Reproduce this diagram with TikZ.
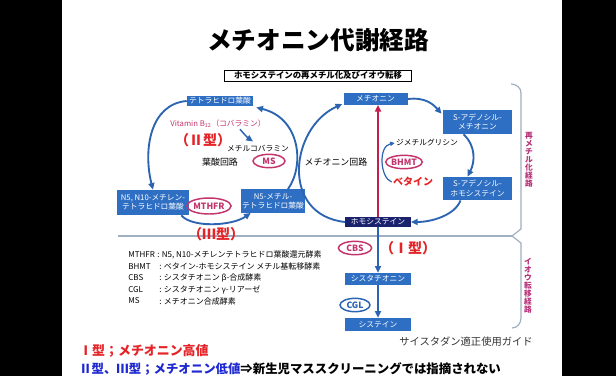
\documentclass[tikz,border=0pt]{standalone}
\usepackage{fontspec}
\setmainfont{Noto Sans CJK JP}
\usetikzlibrary{shapes.geometric,arrows.meta,calc}
\definecolor{boxblue}{RGB}{46,111,196}
\definecolor{navy}{RGB}{26,34,110}
\definecolor{arrowblue}{RGB}{44,100,178}
\definecolor{lblred}{RGB}{228,36,40}
\definecolor{enzmag}{RGB}{196,52,108}
\definecolor{crimson}{RGB}{196,30,76}
\definecolor{bracegray}{RGB}{160,176,194}
\definecolor{vertmag}{RGB}{184,48,122}
\definecolor{lowblue}{RGB}{30,40,210}
\begin{document}
\begin{tikzpicture}[x=0.75pt,y=-0.75pt,
  bbox/.style={fill=boxblue, text=white, inner sep=0pt, align=center, font=\fontsize{5.8}{7}\selectfont},
  enz/.style={ellipse, draw=enzmag, line width=1.1pt, text=enzmag, inner sep=0pt, font=\fontsize{6.5}{6.5}\selectfont\bfseries},
  flow/.style={draw=arrowblue, line width=1.4pt, -{Triangle[length=5pt,width=4.5pt]}},
  thinflow/.style={draw=arrowblue, line width=0.9pt, -{Triangle[length=3.5pt,width=3.2pt]}},
  redlbl/.style={text=lblred, font=\fontsize{10.5}{10.5}\selectfont\bfseries, inner sep=0pt},
  smalltxt/.style={inner sep=0pt, font=\fontsize{5.8}{6}\selectfont},
  legtxt/.style={inner sep=0pt, anchor=west, font=\fontsize{6}{6}\selectfont},
  vert/.style={inner sep=0pt, align=center, text=vertmag, font=\fontsize{5.8}{6}\selectfont\bfseries}
]
\fill[black] (0,0) rectangle (616,376);
\fill[white] (62,0) rectangle (562,376);
\useasboundingbox (0,0) rectangle (616,376);

% title and subtitle
\node[inner sep=0pt, font=\fontsize{18.5}{18.5}\selectfont\bfseries] (title) at (318,40) {メチオニン代謝経路};
\node[draw, line width=0.6pt, minimum width=140pt, minimum height=8.3pt, inner sep=0pt,
      font=\fontsize{6.3}{6.3}\selectfont\bfseries] (sub) at (318,75.5) {ホモシステインの再メチル化及びイオウ転移};

% separator and brace
\draw[bracegray, line width=0.8pt] (118,236) coordinate (sepL) -- (512,236) coordinate (sepR);
\draw[bracegray, line width=0.9pt] (511,84) coordinate (brT) to[out=0,in=90] (521,93) -- (521,229) -- (512,236) -- (521,243) -- (521,318) to[out=-90,in=0] (512,328) coordinate (brB);
\node[vert] (v1) at (529,160) {再\\メ\\チ\\ル\\化\\経\\路};
\node[vert] (v2) at (528,286) {イ\\オ\\ウ\\転\\移\\経\\路};

% boxes
\node[bbox, minimum width=49.5pt, minimum height=7.8pt] (thf) at (220,101) {テトラヒドロ葉酸};
\node[bbox, minimum width=48pt, minimum height=8.4pt] (met) at (375.5,99) {メチオニン};
\node[bbox, minimum width=52pt, minimum height=18pt] (sam) at (477.5,122) {S-アデノシル-\\メチオニン};
\node[bbox, minimum width=52pt, minimum height=17.5pt] (sah) at (477.5,188.5) {S-アデノシル-\\ホモシステイン};
\node[bbox, fill=navy, minimum width=49pt, minimum height=7.8pt] (hcy) at (378,222) {ホモシステイン};
\node[bbox, minimum width=48pt, minimum height=17.5pt] (mthf) at (273,201) {N5-メチル-\\テトラヒドロ葉酸};
\node[bbox, minimum width=54pt, minimum height=18.8pt] (mlthf) at (153,202.5) {N5, N10-メチレン-\\テトラヒドロ葉酸};
\node[bbox, minimum width=50pt, minimum height=9pt] (cysta) at (378,279) {シスタチオニン};
\node[bbox, minimum width=49.5pt, minimum height=9.8pt] (cys) at (378,324.5) {システイン};

% enzymes
\node[enz, minimum width=24pt, minimum height=10pt] (ms) at (269,161) {MS};
\node[enz, minimum width=27pt, minimum height=12pt] (mthfr) at (209,206) {MTHFR};
\node[enz, minimum width=24pt, minimum height=10pt] (bhmt) at (404,162) {BHMT};
\node[enz, minimum width=25pt, minimum height=10pt] (cbs) at (355,248) {CBS};
\node[enz, draw=arrowblue, text=arrowblue, minimum width=22.5pt, minimum height=10pt] (cgl) at (355,305) {CGL};

% labels
\node[smalltxt, text=enzmag] (vitb) at (218,124) {Vitamin B\textsubscript{12}（コバラミン）};
\node[smalltxt] (mecbl) at (258,148) {メチルコバラミン};
\node[inner sep=0pt, font=\fontsize{6.7}{6.7}\selectfont] (folc) at (220,162) {葉酸回路};
\node[inner sep=0pt, font=\fontsize{6.7}{6.7}\selectfont] (metc) at (336,162) {メチオニン回路};
\node[smalltxt] (dmg) at (427,143) {ジメチルグリシン};
\node[inner sep=0pt, text=lblred, font=\fontsize{7.5}{7.5}\selectfont\bfseries] (bet) at (413,182) {ベタイン};
\node[redlbl] (t2) at (203,140) {（Ⅱ型）};
\node[redlbl] (t3) at (216,234) {（Ⅲ型）};
\node[redlbl] (t1) at (408,248) {（Ⅰ型）};

% legend
\node[legtxt] (l1a) at (128,255) {MTHFR};
\node[legtxt] (l1b) at (157,255) {: N5, N10-メチレンテトラヒドロ葉酸還元酵素};
\node[legtxt] (l2a) at (128,266.5) {BHMT};
\node[legtxt] (l2b) at (159,266.5) {: ベタイン-ホモシステイン メチル基転移酵素};
\node[legtxt] (l3a) at (128,278) {CBS};
\node[legtxt] (l3b) at (159,278) {: シスタチオニン β-合成酵素};
\node[legtxt] (l4a) at (128,289.5) {CGL};
\node[legtxt] (l4b) at (159,289.5) {: シスタチオニン γ-リアーゼ};
\node[legtxt] (l5a) at (128,301) {MS};
\node[legtxt] (l5b) at (159,301) {: メチオニン合成酵素};

\node[inner sep=0pt, text=black!80, font=\fontsize{7.7}{7.7}\selectfont] (guide) at (466,342) {サイスタダン適正使用ガイド};

\node[inner sep=0pt, anchor=west, text=lblred, font=\fontsize{9.7}{9.7}\selectfont\bfseries] (b1) at (79,351) {Ⅰ型；メチオニン高値};
\node[inner sep=0pt, anchor=west, font=\fontsize{9.3}{9.3}\selectfont\bfseries] (b2) at (79,369) {\textcolor{lowblue}{Ⅱ型、Ⅲ型；メチオニン低値}⇒新生児マススクリーニングでは指摘されない};

% folate cycle
\draw[flow] (thf.west) .. controls (150,104) and (143,150) .. (mlthf.north);
\draw[flow] ($(mlthf.south east)+(-8,0)$) .. controls (192,228) and (232,226) .. ($(mthf.south west)+(10,0)$);
\draw[flow] ($(mthf.north)+(15,0)$) .. controls (305,165) and (300,118) .. ($(thf.south east)+(3,1)$);
\draw[flow, line width=1.1pt] ($(vitb.south)+(22,1)$) .. controls (244,134) and (248,138) .. ($(mecbl.north)+(-5,-3)$);

% methionine cycle
\draw[flow] (hcy.west) .. controls (280,215) and (290,128) .. ($(met.west)+(-1,5)$);
\draw[flow] (met.east) .. controls (425,97) and (433,104) .. ($(sam.north west)+(-1,4)$);
\draw[flow] ($(sam.south)+(-14,0)$) .. controls (476,146) and (475,162) .. ($(sah.north)+(-10,0)$);
\draw[flow] ($(sah.south)+(-17,0)$) .. controls (455,215) and (432,222) .. (hcy.east);
\draw[crimson, line width=1.3pt, -{Triangle[length=5pt,width=4.5pt]}] (hcy.north) -- (hcy.north |- met.south);
\draw[thinflow] ($(bet.west)+(-1,0)$) .. controls (380,178) and (378,146) .. ($(dmg.west)+(-1,0)$);

% transsulfuration
\draw[flow] (hcy.south) -- (cysta.north);
\draw[flow] (cysta.south) -- (cys.north);
\end{tikzpicture}
\end{document}
